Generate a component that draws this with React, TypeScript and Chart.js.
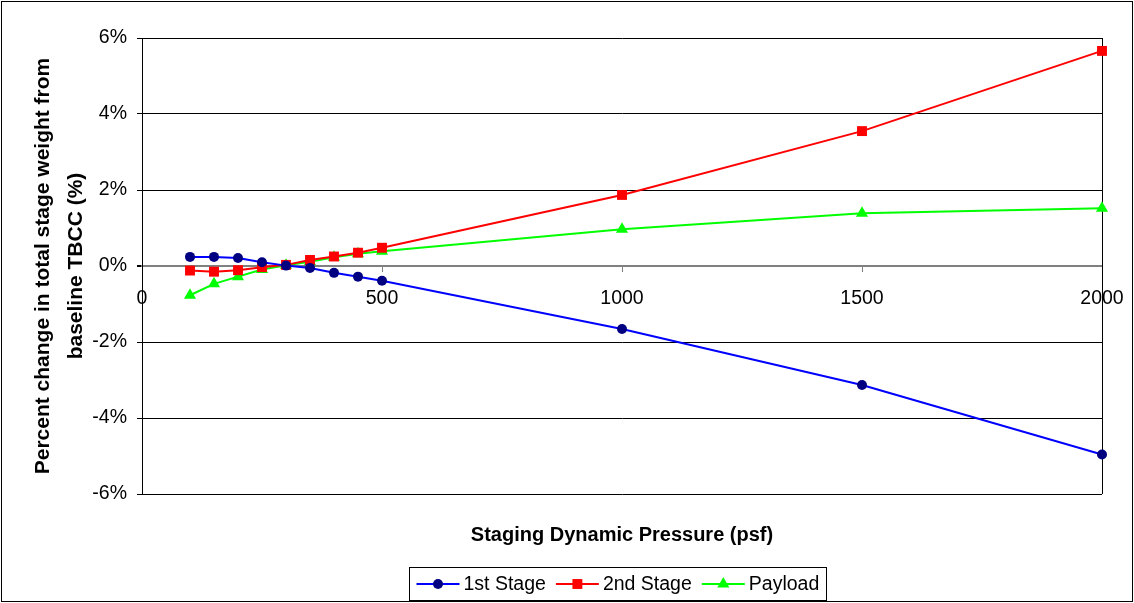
import React, { useEffect, useRef } from 'react';
import { Chart, registerables } from 'chart.js';

Chart.register(...registerables);

const pressures = [100, 150, 200, 250, 300, 350, 400, 450, 500, 1000, 1500, 2000];
const stage1 = [0.24, 0.24, 0.21, 0.1, 0.01, -0.05, -0.18, -0.28, -0.39, -1.66, -3.13, -4.96];
const stage2 = [-0.12, -0.15, -0.11, -0.03, 0.03, 0.16, 0.25, 0.35, 0.48, 1.87, 3.55, 5.66];
const payload = [-0.77, -0.47, -0.28, -0.09, 0.02, 0.11, 0.23, 0.32, 0.39, 0.97, 1.39, 1.52];
const seriesNames = ['1st Stage', '2nd Stage', 'Payload'];
const yTitle = ['Percent change in total stage weight from', 'baseline TBCC (%)'];
const xTitle = 'Staging Dynamic Pressure (psf)';
const xMin = 0;
const xMax = 2000;
const xStep = 500;
const yMin = -6;
const yMax = 6;
const yStep = 2;

const FONT = "'Liberation Sans', Arial, sans-serif";
const TICK_SIZE = 19.5;
const TITLE_SIZE = 20;

function drawMarker(ctx: CanvasRenderingContext2D, style: string, x: number, y: number, r: number, color: string) {
  ctx.fillStyle = color;
  ctx.beginPath();
  if (style === 'circle') {
    ctx.arc(x, y, r, 0, Math.PI * 2);
  } else if (style === 'rect') {
    const s = Math.SQRT1_2 * r;
    ctx.rect(x - s, y - s, 2 * s, 2 * s);
  } else if (style === 'triangle') {
    ctx.moveTo(x, y - r);
    ctx.lineTo(x + r * Math.cos(Math.PI / 6), y + r / 2);
    ctx.lineTo(x - r * Math.cos(Math.PI / 6), y + r / 2);
    ctx.closePath();
  }
  ctx.fill();
}

const frameAndLegend = {
  id: 'frameAndLegend',
  beforeDatasetsDraw(chart: any) {
    const ctx = chart.ctx;
    const { chartArea } = chart;
    ctx.save();
    ctx.strokeStyle = '#000';
    ctx.lineWidth = 1;
    ctx.beginPath();
    ctx.moveTo(Math.round(chartArea.right) + 0.5, chartArea.top);
    ctx.lineTo(Math.round(chartArea.right) + 0.5, chartArea.bottom);
    ctx.stroke();
    ctx.restore();
  },
  afterDraw(chart: any) {
    const ctx = chart.ctx;
    const { width, height, chartArea } = chart;
    ctx.save();
    ctx.strokeStyle = '#000';
    ctx.lineWidth = 1;
    ctx.strokeRect(1.5, 1.5, width - 3, height - 3);

    ctx.font = `${TICK_SIZE}px ${FONT}`;
    const lineLen = 43;
    const gapText = 4;
    const gapItem = 10;
    const padX = 7;
    const items = chart.data.datasets.map((ds: any) => ({
      ds,
      w: lineLen + gapText + ctx.measureText(ds.label).width,
    }));
    const total = items.reduce((s: number, it: any) => s + it.w, 0) + gapItem * (items.length - 1) + padX * 2;
    const cx = (chartArea.left + chartArea.right) / 2 - 5;
    const boxL = Math.round(cx - total / 2) + 0.5;
    const boxT = 567.5;
    const boxH = 33;
    ctx.strokeStyle = '#000';
    ctx.lineWidth = 1;
    ctx.strokeRect(boxL, boxT, Math.round(total), boxH);
    let x = boxL + padX;
    const cy = boxT + boxH / 2;
    items.forEach((it: any) => {
      const ds = it.ds;
      ctx.strokeStyle = ds.borderColor;
      ctx.lineWidth = 2;
      ctx.beginPath();
      ctx.moveTo(x, cy);
      ctx.lineTo(x + lineLen, cy);
      ctx.stroke();
      drawMarker(ctx, ds.pointStyle, x + lineLen / 2, cy, ds.pointRadius, ds.pointBackgroundColor);
      ctx.fillStyle = '#000';
      ctx.textBaseline = 'middle';
      ctx.textAlign = 'left';
      ctx.fillText(ds.label, x + lineLen + gapText, cy + 1);
      x += it.w + gapItem;
    });
    ctx.restore();
  },
};

export default function App() {
  const ref = useRef<HTMLCanvasElement | null>(null);

  useEffect(() => {
    document.body.style.margin = '0';
    const canvas = ref.current;
    if (!canvas) return;
    const mk = (arr: number[]) => pressures.map((p, i) => ({ x: p, y: arr[i] }));
    const chart = new Chart(canvas, {
      type: 'line',
      data: {
        datasets: [
          {
            label: seriesNames[0],
            data: mk(stage1),
            borderColor: '#0000FF',
            backgroundColor: '#000080',
            pointBackgroundColor: '#000080',
            pointBorderColor: '#000080',
            pointStyle: 'circle',
            pointRadius: 5,
            borderWidth: 2,
            pointBorderWidth: 0,
            clip: false,
          },
          {
            label: seriesNames[1],
            data: mk(stage2),
            borderColor: '#FF0000',
            backgroundColor: '#FF0000',
            pointBackgroundColor: '#FF0000',
            pointBorderColor: '#FF0000',
            pointStyle: 'rect',
            pointRadius: 7,
            borderWidth: 2,
            pointBorderWidth: 0,
            clip: false,
          },
          {
            label: seriesNames[2],
            data: mk(payload),
            borderColor: '#00FF00',
            backgroundColor: '#00FF00',
            pointBackgroundColor: '#00FF00',
            pointBorderColor: '#00FF00',
            pointStyle: 'triangle',
            pointRadius: 7,
            borderWidth: 2,
            pointBorderWidth: 0,
            clip: false,
          },
        ],
      },
      options: {
        animation: false,
        responsive: false,
        maintainAspectRatio: false,
        layout: { padding: { left: 0, top: 38, right: 32, bottom: 0 } },
        plugins: {
          legend: { display: false },
          tooltip: { enabled: false },
        },
        scales: {
          x: {
            type: 'linear',
            position: { y: 0 } as any,
            min: xMin,
            max: xMax,
            ticks: {
              stepSize: xStep,
              color: '#000',
              font: { family: FONT, size: TICK_SIZE },
              padding: 16,
              maxRotation: 0,
              autoSkip: false,
              callback: (v: any) => String(v),
            },
            grid: {
              drawOnChartArea: false,
              tickColor: '#808080',
              tickLength: 5,
            },
            border: { display: true, color: '#808080', width: 2 },
            afterFit: (s: any) => {
              s.paddingLeft = 0;
              s.paddingRight = 0;
            },
          },
          x2: {
            type: 'linear',
            position: 'bottom',
            display: true,
            min: xMin,
            max: xMax,
            ticks: { display: false },
            grid: { display: false },
            border: { display: false },
            title: {
              display: true,
              text: xTitle,
              color: '#000',
              font: { family: FONT, size: TITLE_SIZE, weight: 'bold', lineHeight: 1.2 },
              padding: { top: 0, bottom: 56 },
            },
            afterFit: (s: any) => {
              s.height = 109;
              s.paddingLeft = 0;
              s.paddingRight = 0;
            },
          },
          y: {
            type: 'linear',
            min: yMin,
            max: yMax,
            ticks: {
              stepSize: yStep,
              color: '#000',
              font: { family: FONT, size: TICK_SIZE },
              padding: 10,
              callback: (v: any) => `${v}%`,
            },
            grid: {
              color: (c: any) => (c.tick && c.tick.value === 0 ? '#808080' : '#000'),
              lineWidth: (c: any) => (c.tick && c.tick.value === 0 ? 2 : 1),
              tickColor: '#000',
              tickLength: 5,
            },
            border: { display: true, color: '#000', width: 1 },
            title: {
              display: true,
              text: yTitle,
              color: '#000',
              font: { family: FONT, size: 21, weight: 'bold', lineHeight: 1.57 },
              padding: { top: 27, bottom: 0 },
            },
            afterFit: (s: any) => {
              s.width = 142;
            },
          },
        },
      },
      plugins: [frameAndLegend],
    } as any);
    return () => chart.destroy();
  }, []);

  return (
    <div style={{ position: 'absolute', left: 0, top: 0, width: 1134, height: 603, background: '#fff' }}>
      <canvas ref={ref} width={1134} height={603} style={{ display: 'block', width: 1134, height: 603 }} />
    </div>
  );
}
